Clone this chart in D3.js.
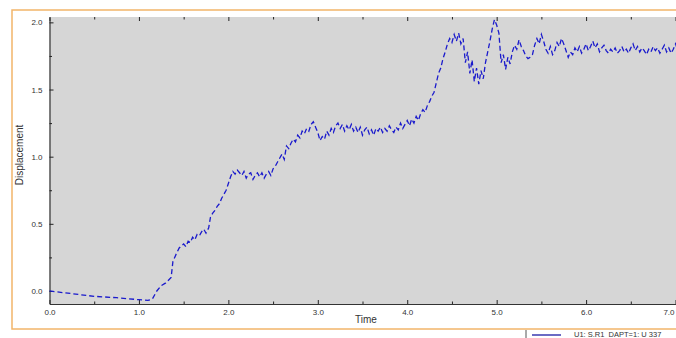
<!DOCTYPE html>
<html>
<head>
<meta charset="utf-8">
<script src="https://cdn.jsdelivr.net/npm/d3@7"></script>
<style>
  html, body { margin: 0; padding: 0; background: #fff; overflow: hidden; }
  svg { display: block; }
  text { font-family: "Liberation Sans", Arial, sans-serif; fill: #333; }
</style>
</head>
<body>
<svg id="chart" width="700" height="338"></svg>
<script>
// Displacement history of the monitored node
const time = [
  0.00, 0.25, 0.50, 0.75, 1.00, 1.10, 1.15, 1.20, 1.25, 1.30, 1.33, 1.36, 1.38, 1.42, 1.45,
  1.50, 1.525, 1.55, 1.575, 1.60, 1.625, 1.65, 1.675, 1.70, 1.725, 1.75, 1.78, 1.80, 1.825, 1.85,
  1.875, 1.90, 1.925, 1.95, 1.975, 2.00, 2.025, 2.05, 2.075, 2.10, 2.125, 2.15, 2.175, 2.20, 2.225,
  2.25, 2.275, 2.30, 2.325, 2.35, 2.375, 2.40, 2.425, 2.45, 2.475, 2.50, 2.525, 2.55, 2.575, 2.60,
  2.625, 2.65, 2.675, 2.70, 2.725, 2.75, 2.775, 2.80, 2.825, 2.85, 2.875, 2.90, 2.925, 2.95, 2.975,
  3.00, 3.025, 3.05, 3.075, 3.10, 3.125, 3.15, 3.175, 3.20, 3.225, 3.25, 3.275, 3.30, 3.325, 3.35,
  3.375, 3.40, 3.425, 3.45, 3.475, 3.50, 3.525, 3.55, 3.575, 3.60, 3.625, 3.65, 3.675, 3.70, 3.725,
  3.75, 3.775, 3.80, 3.825, 3.85, 3.875, 3.90, 3.925, 3.95, 3.975, 4.00, 4.025, 4.05, 4.075, 4.10,
  4.125, 4.15, 4.175, 4.20, 4.225, 4.25, 4.275, 4.30, 4.325, 4.35, 4.375, 4.40, 4.425, 4.45, 4.475,
  4.50, 4.525, 4.55, 4.575, 4.60, 4.625, 4.65, 4.675, 4.70, 4.725, 4.75, 4.775, 4.80, 4.825, 4.85,
  4.875, 4.90, 4.925, 4.95, 4.975, 5.00, 5.025, 5.05, 5.075, 5.10, 5.125, 5.15, 5.175, 5.20, 5.225,
  5.25, 5.275, 5.30, 5.325, 5.35, 5.375, 5.40, 5.425, 5.45, 5.475, 5.50, 5.525, 5.55, 5.575, 5.60,
  5.625, 5.65, 5.675, 5.70, 5.725, 5.75, 5.775, 5.80, 5.825, 5.85, 5.875, 5.90, 5.925, 5.95, 5.975,
  6.00, 6.025, 6.05, 6.075, 6.10, 6.125, 6.15, 6.175, 6.20, 6.225, 6.25, 6.275, 6.30, 6.325, 6.35,
  6.375, 6.40, 6.425, 6.45, 6.475, 6.50, 6.525, 6.55, 6.575, 6.60, 6.625, 6.65, 6.675, 6.70, 6.725,
  6.75, 6.775, 6.80, 6.825, 6.85, 6.875, 6.90, 6.925, 6.95, 6.975, 7.00, 7.025, 7.05
];
const displacement = [
  0.00, -0.02, -0.04, -0.05, -0.065, -0.07, -0.06, 0.00, 0.04, 0.06, 0.08, 0.10, 0.22, 0.28, 0.32,
  0.35, 0.33, 0.37, 0.36, 0.40, 0.38, 0.42, 0.41, 0.44, 0.46, 0.43, 0.47, 0.55, 0.58, 0.60,
  0.63, 0.65, 0.69, 0.72, 0.75, 0.80, 0.85, 0.89, 0.87, 0.90, 0.88, 0.86, 0.89, 0.84, 0.87,
  0.88, 0.83, 0.86, 0.88, 0.85, 0.88, 0.84, 0.87, 0.89, 0.86, 0.91, 0.93, 0.96, 0.99, 1.02,
  0.98, 1.08, 1.06, 1.10, 1.13, 1.11, 1.16, 1.14, 1.19, 1.17, 1.21, 1.19, 1.24, 1.26, 1.22,
  1.18, 1.12, 1.15, 1.13, 1.19, 1.16, 1.21, 1.18, 1.23, 1.25, 1.21, 1.24, 1.19, 1.23, 1.20,
  1.24, 1.19, 1.22, 1.18, 1.22, 1.16, 1.20, 1.22, 1.17, 1.20, 1.16, 1.21, 1.19, 1.22, 1.18,
  1.21, 1.19, 1.23, 1.20, 1.18, 1.22, 1.20, 1.25, 1.21, 1.24, 1.27, 1.23, 1.28, 1.25, 1.30,
  1.27, 1.32, 1.35, 1.33, 1.38, 1.41, 1.45, 1.48, 1.55, 1.62, 1.66, 1.73, 1.78, 1.84, 1.88,
  1.85, 1.91, 1.86, 1.92, 1.84, 1.88, 1.70, 1.78, 1.62, 1.72, 1.56, 1.66, 1.54, 1.64, 1.58,
  1.70, 1.78, 1.86, 1.95, 2.02, 1.98, 1.92, 1.70, 1.76, 1.65, 1.74, 1.69, 1.78, 1.83, 1.80,
  1.87, 1.82, 1.79, 1.75, 1.73, 1.74, 1.76, 1.83, 1.88, 1.84, 1.91, 1.86, 1.80, 1.77, 1.82,
  1.76, 1.79, 1.85, 1.82, 1.88, 1.84, 1.79, 1.74, 1.78, 1.76, 1.81, 1.78, 1.82, 1.77, 1.80,
  1.84, 1.79, 1.82, 1.86, 1.81, 1.84, 1.78, 1.81, 1.83, 1.79, 1.77, 1.80, 1.78, 1.81, 1.77,
  1.79, 1.82, 1.78, 1.80, 1.77, 1.81, 1.84, 1.79, 1.82, 1.78, 1.81, 1.79, 1.76, 1.80, 1.78,
  1.82, 1.79, 1.81, 1.77, 1.80, 1.83, 1.78, 1.81, 1.77, 1.80, 1.84, 1.79, 1.82
];
const xTicks = [0, 1, 2, 3, 4, 5, 6, 7];
const yTicks = [0.0, 0.5, 1.0, 1.5, 2.0];
const seriesName = "U1: S.R1_DAPT=1: U 337";

const svg = d3.select("#chart");
const plot = { left: 49.5, top: 17, right: 680, bottom: 304 };

// outer frame
svg.append("rect")
  .attr("x", 12).attr("y", 10)
  .attr("width", 700).attr("height", 319)
  .attr("fill", "#fff")
  .attr("stroke", "#f2b56a").attr("stroke-width", 1.5);

const x = d3.scaleLinear().domain([0, 7.05]).range([plot.left, plot.right]);
const y = d3.scaleLinear().domain([-0.097, 2.04]).range([plot.bottom, plot.top]);

// plot background
svg.append("rect")
  .attr("x", plot.left).attr("y", plot.top)
  .attr("width", plot.right - plot.left).attr("height", plot.bottom - plot.top)
  .attr("fill", "#d6d6d6");

const xMinor = d3.range(0.5, 7.05, 1);
const yMinor = [0.25, 0.75, 1.25, 1.75];

function styleAxis(g) {
  g.select(".domain").attr("stroke", "#333").attr("stroke-width", 1.2);
  g.selectAll(".tick line").attr("stroke", "#222");
  g.selectAll(".tick text").attr("font-size", 8).attr("fill", "#333");
}

// bottom axis (ticks pointing inward)
const gx = svg.append("g").attr("transform", `translate(0,${plot.bottom})`)
  .call(d3.axisBottom(x).tickValues(xTicks).tickFormat(d3.format(".1f"))
    .tickSizeInner(-4).tickSizeOuter(0).tickPadding(5));
styleAxis(gx);
// keep the last label inside the window
gx.selectAll(".tick text").filter(d => d === 7)
  .attr("text-anchor", "end").attr("dx", -1.5);
svg.append("g").attr("transform", `translate(0,${plot.bottom})`)
  .call(d3.axisBottom(x).tickValues(xMinor).tickFormat("").tickSizeInner(-2.5).tickSizeOuter(0))
  .call(g => { g.select(".domain").remove(); g.selectAll("line").attr("stroke", "#222"); });

// top axis ticks
const gxt = svg.append("g").attr("transform", `translate(0,${plot.top})`)
  .call(d3.axisTop(x).tickValues(xTicks).tickFormat("").tickSizeInner(-4).tickSizeOuter(0));
gxt.select(".domain").remove();
gxt.selectAll("line").attr("stroke", "#222");
svg.append("g").attr("transform", `translate(0,${plot.top})`)
  .call(d3.axisTop(x).tickValues(xMinor).tickFormat("").tickSizeInner(-2.5).tickSizeOuter(0))
  .call(g => { g.select(".domain").remove(); g.selectAll("line").attr("stroke", "#222"); });

// left axis
const gy = svg.append("g").attr("transform", `translate(${plot.left},0)`)
  .call(d3.axisLeft(y).tickValues(yTicks).tickFormat(d3.format(".1f"))
    .tickSizeInner(-4).tickSizeOuter(0).tickPadding(7));
styleAxis(gy);
svg.append("g").attr("transform", `translate(${plot.left},0)`)
  .call(d3.axisLeft(y).tickValues(yMinor).tickFormat("").tickSizeInner(-2.5).tickSizeOuter(0))
  .call(g => { g.select(".domain").remove(); g.selectAll("line").attr("stroke", "#222"); });

// right axis ticks
const gyr = svg.append("g").attr("transform", `translate(${plot.right},0)`)
  .call(d3.axisRight(y).tickValues(yTicks).tickFormat("").tickSizeInner(-4).tickSizeOuter(0));
gyr.select(".domain").attr("stroke", "#333");
gyr.selectAll("line").attr("stroke", "#222");

// axis titles
svg.append("text")
  .attr("x", 366).attr("y", 323)
  .attr("text-anchor", "middle").attr("font-size", 10)
  .text("Time");
svg.append("text")
  .attr("transform", "translate(23,155) rotate(-90)")
  .attr("text-anchor", "middle").attr("font-size", 10)
  .text("Displacement");

// series
const pts = time.map((t, i) => [t, displacement[i]]);
svg.append("path")
  .datum(pts)
  .attr("fill", "none")
  .attr("stroke", "#1a1acc")
  .attr("stroke-width", 1.3)
  .attr("stroke-dasharray", "5,3")
  .attr("d", d3.line().x(d => x(d[0])).y(d => y(d[1])));

// legend
svg.append("line")
  .attr("x1", 526).attr("x2", 526).attr("y1", 330).attr("y2", 338)
  .attr("stroke", "#555");
svg.append("line")
  .attr("x1", 532).attr("x2", 561).attr("y1", 335).attr("y2", 335)
  .attr("stroke", "#3a3ab0").attr("stroke-width", 1.5);
svg.append("text")
  .attr("x", 574).attr("y", 336.5)
  .attr("font-size", 7.5)
  .text(seriesName);
</script>
</body>
</html>
